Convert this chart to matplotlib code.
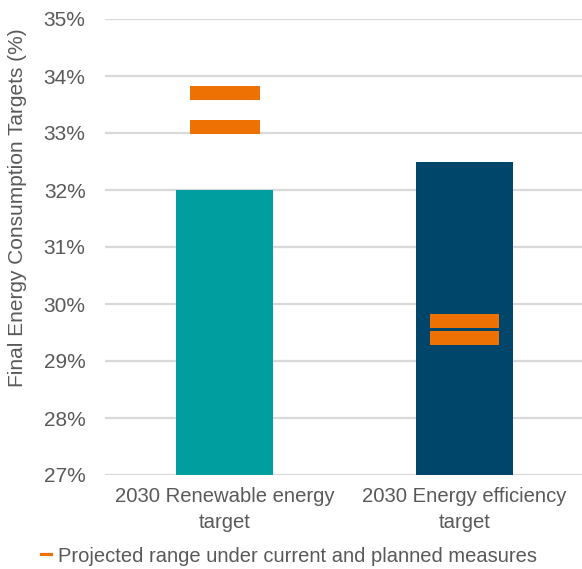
import matplotlib.pyplot as plt
from matplotlib.lines import Line2D

plt.rcParams['font.family'] = ['Liberation Sans', 'DejaVu Sans']

# Data
categories = ["2030 Renewable energy\ntarget", "2030 Energy efficiency\ntarget"]
targets = [32.0, 32.5]
projected_low = [33.1, 29.4]
projected_high = [33.7, 29.7]
bar_colors = ["#009E9E", "#00466B"]
range_color = "#EE7203"
text_color = "#595959"

fig = plt.figure(figsize=(5.82, 5.69), dpi=100)
ax = fig.add_axes([105 / 582, 1 - 475 / 569, 1 - 105 / 582, (475 - 19) / 569])

x = list(range(len(categories)))

# Main target bars
ax.bar(x, targets, width=0.405, color=bar_colors, zorder=2)

# Projected range markers
mark_h = 0.24
for vals in (projected_low, projected_high):
    ax.bar(x, [mark_h] * len(vals), bottom=[v - mark_h / 2 for v in vals],
           width=0.29, color=range_color, zorder=3)

ax.set_xlim(-0.5, 1.49)
ax.set_ylim(27, 35)
ax.set_yticks(range(27, 36))
ax.set_yticklabels([f"{v}%" for v in range(27, 36)])
ax.set_xticks(x)
ax.set_xticklabels(categories, fontsize=14.6, color=text_color, linespacing=1.45)

ax.tick_params(axis='y', length=0, pad=14, labelsize=15, labelcolor=text_color)
ax.tick_params(axis='x', length=0, pad=9)
ax.grid(axis='y', color="#D9D9D9", linewidth=1.6, zorder=0)
ax.set_axisbelow(True)
for s in ax.spines.values():
    s.set_visible(False)

fig.text(18 / 582, 1 - 208 / 569, "Final Energy Consumption Targets (%)",
         rotation=90, ha='center', va='center', fontsize=15, color=text_color)

# Legend
handle = Line2D([], [], color=range_color, linewidth=2.3)
fig.legend([handle], ["Projected range under current and planned measures"],
           loc='center', bbox_to_anchor=(289 / 582, 1 - 556 / 569),
           frameon=False, fontsize=14.5, labelcolor=text_color,
           handlelength=0.45, handletextpad=0.35, borderpad=0)

fig.savefig("out.png", dpi=100)
